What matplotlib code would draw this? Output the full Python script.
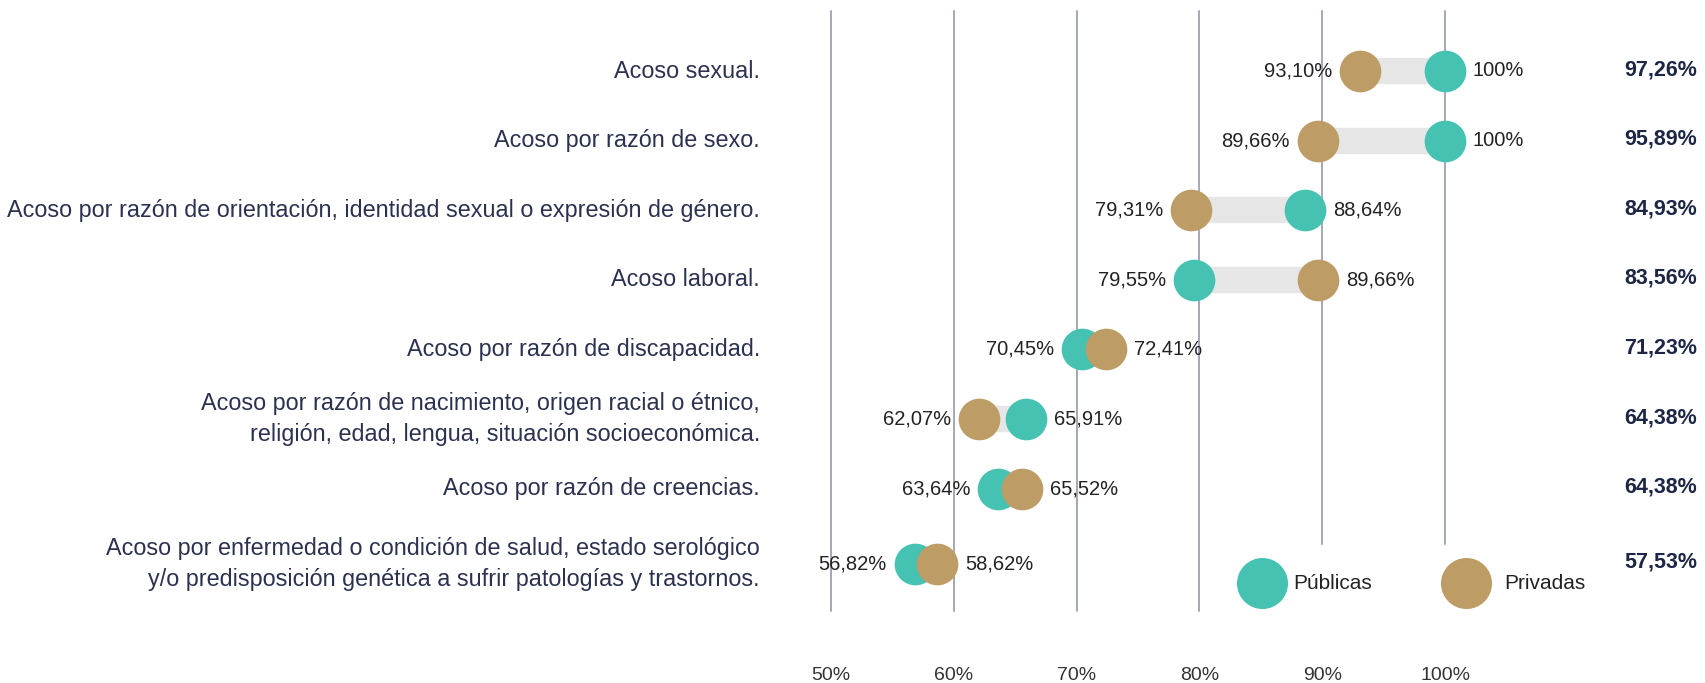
import matplotlib.pyplot as plt
import numpy as np

plt.rcParams['font.family'] = ['Liberation Sans', 'DejaVu Sans']

categories = [
    "Acoso sexual.",
    "Acoso por razón de sexo.",
    "Acoso por razón de orientación, identidad sexual o expresión de género.",
    "Acoso laboral.",
    "Acoso por razón de discapacidad.",
    "Acoso por razón de nacimiento, origen racial o étnico,\nreligión, edad, lengua, situación socioeconómica.",
    "Acoso por razón de creencias.",
    "Acoso por enfermedad o condición de salud, estado serológico\ny/o predisposición genética a sufrir patologías y trastornos.",
]
publicas = [100, 100, 88.64, 79.55, 70.45, 65.91, 63.64, 56.82]
privadas = [93.10, 89.66, 79.31, 89.66, 72.41, 62.07, 65.52, 58.62]
totales = [97.26, 95.89, 84.93, 83.56, 71.23, 64.38, 64.38, 57.53]
ticks = [50, 60, 70, 80, 90, 100]

teal = '#45c2b1'
brown = '#bd9c66'
navy = '#2b3150'
grid_c = '#8c90a3'


def fmt(v):
    if v == 100:
        return "100%"
    return f"{v:.2f}".replace('.', ',') + "%"


fig = plt.figure(figsize=(17.06, 6.83), dpi=100)
ax = fig.add_axes([0, 0, 1, 1])
ax.axis('off')

# x: 50% at px 831, 100% at px 1445
ppu = (1445 - 831) / 50
ax.set_xlim(50 - 831 / ppu, 100 + (1706 - 1445) / ppu)
# y: row 0 at px 71, row pitch ~69.6 px, y grows downwards
pitch = 69.6
ax.set_ylim((683 - 71) / pitch, -71 / pitch)

ypos = np.arange(len(categories), dtype=float)
ypos[-1] += 0.08

# grid lines
for t in ticks:
    bottom = 6.8 if t >= 90 else 7.76
    ax.plot([t, t], [-0.86, bottom], color=grid_c, lw=1.1, zorder=1)
    ax.text(t, 8.68, f"{t}%", ha='center', va='center', fontsize=14, color='#333333')

off = 28 / ppu
for i, y in enumerate(ypos):
    lo, hi = min(publicas[i], privadas[i]), max(publicas[i], privadas[i])
    ax.plot([lo, hi], [y, y], color='#e6e6e6', lw=19, solid_capstyle='butt', zorder=2)
    ax.scatter([publicas[i]], [y], s=900, color=teal, zorder=3, linewidths=0)
    ax.scatter([privadas[i]], [y], s=900, color=brown, zorder=3, linewidths=0)
    lo_v = privadas[i] if privadas[i] <= publicas[i] else publicas[i]
    hi_v = publicas[i] if privadas[i] <= publicas[i] else privadas[i]
    ax.text(lo - off, y, fmt(lo_v), ha='right', va='center', fontsize=14.5, color='#222222')
    ax.text(hi + off, y, fmt(hi_v), ha='left', va='center', fontsize=14.5, color='#222222')
    ax.text(50 - (831 - 760) / ppu, y, categories[i], ha='right', va='center',
            fontsize=16.8, color=navy, linespacing=1.45)
    ax.text(100 + (1697 - 1445) / ppu, y - 0.02, fmt(totales[i]), ha='right', va='center',
            fontsize=15.5, color='#1e2646', fontweight='bold')

# legend
ly = 7.36
ax.scatter([85.1], [ly], s=1350, color=teal, linewidths=0, zorder=3)
ax.text(85.1 + 31 / ppu, ly, "Públicas", ha='left', va='center', fontsize=15, color='#222222')
ax.scatter([101.75], [ly], s=1350, color=brown, linewidths=0, zorder=3)
ax.text(101.75 + 38 / ppu, ly, "Privadas", ha='left', va='center', fontsize=15, color='#222222')

fig.savefig('out.png', dpi=100)
